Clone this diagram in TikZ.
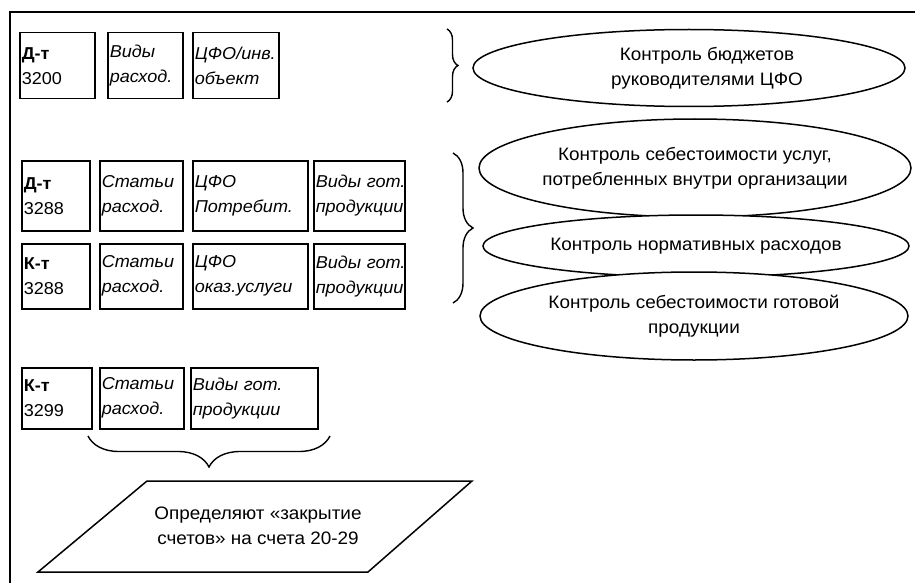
\documentclass[tikz,border=0pt]{standalone}
\usepackage{fontspec}
\setmainfont{Liberation Sans}[FakeStretch=1.05]
\usetikzlibrary{shapes.geometric,decorations.pathreplacing}
\begin{document}
\begin{tikzpicture}[x=1pt,y=-1pt,
  every node/.style={font=\fontsize{18}{25}\selectfont},
  ln/.style={line width=1.5pt},
  bx/.style={draw, line width=1.5pt, anchor=north west, align=left,
    inner xsep=2pt, inner ysep=0pt, font=\fontsize{17.2}{25}\selectfont},
  el/.style={draw, line width=1.5pt, ellipse, fill=white, inner sep=0pt, align=center},
  br/.style={line width=1.4pt, decorate, decoration={brace, amplitude=#1}}
]
\useasboundingbox (0,0) rectangle (915,583);
% frame
\coordinate (fTR) at (915,12);
\coordinate (fTL) at (10,12);
\coordinate (fBL) at (10,583);
\draw[ln] (fTR) -- (fTL) -- (fBL);

% row 1
\node[bx, text width=71pt, minimum height=66pt] (b11) at (19,32) {\textbf{Д-т}\\3200};
\node[bx, text width=71pt, minimum height=66pt] (b12) at (107,32) {\itshape Виды\\расход.};
\node[bx, text width=82pt, minimum height=66pt] (b13) at (192,32) {\itshape ЦФО/инв.\\объект};

% row 2
\node[bx, text width=64pt, minimum height=70pt] (b21) at (21,160) {\textbf{Д-т}\\3288};
\node[bx, text width=79pt, minimum height=70pt] (b22) at (99,160) {\itshape Статьи\\расход.};
\node[bx, text width=111pt, minimum height=70pt] (b23) at (192,160) {\itshape ЦФО\\Потребит.};
\node[bx, text width=87pt, minimum height=70pt] (b24) at (313,160) {\itshape \mbox{Виды гот.}\\продукции};

% row 3
\node[bx, text width=64pt, minimum height=65pt] (b31) at (21,243) {\textbf{К-т}\\3288};
\node[bx, text width=79pt, minimum height=65pt] (b32) at (99,243) {\itshape Статьи\\расход.};
\node[bx, text width=111pt, minimum height=65pt] (b33) at (192,243) {\itshape ЦФО\\оказ.услуги};
\node[bx, text width=87pt, minimum height=65pt] (b34) at (313,243) {\itshape \mbox{Виды гот.}\\продукции};

% row 4
\node[bx, text width=66pt, minimum height=61pt] (b41) at (21,367) {\textbf{К-т}\\3299};
\node[bx, text width=80pt, minimum height=61pt] (b42) at (99,367) {\itshape Статьи\\расход.};
\node[bx, text width=123pt, minimum height=61pt] (b43) at (190,367) {\itshape Виды гот.\\продукции};

% ellipses
\node[el, minimum width=432pt, minimum height=77pt] (e1) at (689,68) {\hspace*{36pt}Контроль бюджетов\\\hspace*{36pt}руководителями ЦФО};
\node[el, minimum width=424pt, minimum height=98pt] (e2) at (695,168) {Контроль себестоимости услуг,\\потребленных внутри организации};
\node[el, minimum width=426pt, minimum height=62pt] (e3) at (696,246) {Контроль нормативных расходов};
\node[el, minimum width=428pt, minimum height=88pt] (e4) at (694,316) {Контроль себестоимости готовой\\продукции};

% braces
\coordinate (r1t) at (447,29);
\coordinate (r1b) at (447,102);
\draw[br=11pt] (r1t) -- (r1b);
\coordinate (r2t) at (453,153);
\coordinate (r2b) at (453,303);
\draw[br=20pt] (r2t) -- (r2b);
\coordinate (r4r) at (330,436);
\coordinate (r4l) at (88,436);
\draw[br=31pt] (r4r) -- (r4l);

% parallelogram
\coordinate (p1) at (38,572);
\coordinate (p2) at (147,481);
\coordinate (p3) at (472,481);
\coordinate (p4) at (368,572);
\draw[ln] (p1) -- (p2) -- (p3) -- (p4) -- cycle;
\node[align=center] (pt) at (258,526) {Определяют «закрытие\\счетов» на счета 20-29};
\end{tikzpicture}
\end{document}
